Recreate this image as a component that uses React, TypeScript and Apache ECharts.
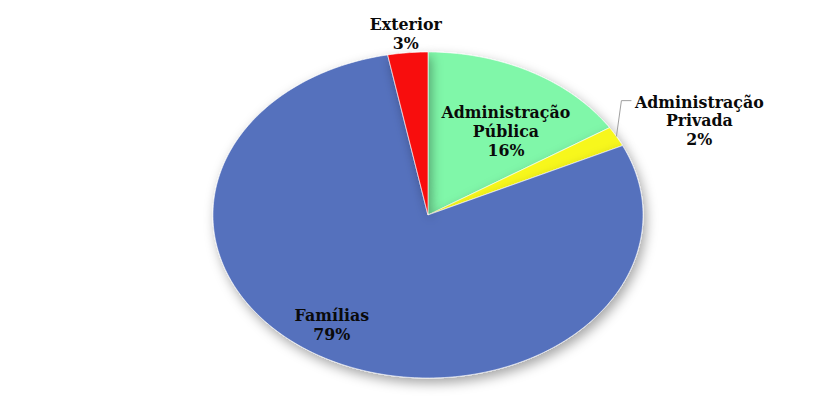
import React, { useEffect, useRef } from "react";
import * as echarts from "echarts";

const CATEGORIES = ["Administração Pública", "Administração Privada", "Famílias", "Exterior"];
const LABEL_TEXT = ["Administração\nPública", "Administração\nPrivada", "Famílias", "Exterior"];
const VALUES = [16, 2, 79, 3];
const COLORS = ["#80f7a9", "#f7f71e", "#5571bd", "#f80a0a"];

// label placement: radial factor and angular shift (degrees) relative to slice mid-angle
const LABEL_K = [0.627, 1.388, 0.81, 1.116];
const LABEL_DA = [6.5, 4.2, 6.5, 0.1];

const FONT = "bold 15.8px 'DejaVu Serif', 'Liberation Serif', serif";
const LINE_H = 18.8;

export default function App() {
  const ref = useRef<HTMLDivElement>(null);
  useEffect(() => {
    document.body.style.margin = "0";
    const chart = echarts.init(ref.current!, null, { renderer: "svg" });
    const total = VALUES.reduce((a, b) => a + b, 0);
    const starts: number[] = [];
    let acc = 0;
    VALUES.forEach((v) => {
      starts.push(acc);
      acc += v;
    });
    const geo = (api: any) => {
      const w = api.getWidth();
      const h = api.getHeight();
      return { cx: w * 0.5095, cy: h * 0.5257, rx: w * 0.256, ry: h * 0.3985 };
    };
    const pt = (g: any, deg: number, k: number) => {
      const a = (deg * Math.PI) / 180;
      return [g.cx + g.rx * k * Math.sin(a), g.cy - g.ry * k * Math.cos(a)];
    };
    const data = VALUES.map((v, i) => ({ value: v, name: CATEGORIES[i] }));

    chart.setOption({
      animation: false,
      backgroundColor: "#ffffff",
      series: [
        {
          type: "custom",
          coordinateSystem: "none",
          data,
          renderItem: (params: any, api: any) => {
            const i = params.dataIndex;
            const g = geo(api);
            const a0 = (starts[i] / total) * 360;
            const a1 = ((starts[i] + VALUES[i]) / total) * 360;
            const pts: number[][] = [[g.cx, g.cy]];
            const steps = Math.max(4, Math.ceil(a1 - a0));
            for (let s = 0; s <= steps; s++) {
              pts.push(pt(g, a0 + ((a1 - a0) * s) / steps, 1));
            }
            return {
              type: "polygon",
              shape: { points: pts },
              style: {
                fill: COLORS[i],
                stroke: "rgba(255,255,255,0.6)",
                lineWidth: 1,
                shadowBlur: 12,
                shadowColor: "rgba(0,0,0,0.35)",
                shadowOffsetX: 3,
                shadowOffsetY: 5,
              },
            };
          },
        },
        {
          type: "custom",
          coordinateSystem: "none",
          z: 10,
          data,
          renderItem: (params: any, api: any) => {
            const i = params.dataIndex;
            const g = geo(api);
            const a0 = (starts[i] / total) * 360;
            const a1 = ((starts[i] + VALUES[i]) / total) * 360;
            const mid = (a0 + a1) / 2;
            const p = pt(g, mid + LABEL_DA[i], LABEL_K[i]);
            const pct = Math.round((VALUES[i] / total) * 100) + "%";
            const children: any[] = [
              {
                type: "text",
                x: p[0],
                y: p[1],
                style: {
                  text: LABEL_TEXT[i] + "\n" + pct,
                  font: FONT,
                  fill: "#0a0a0a",
                  align: "center",
                  verticalAlign: "middle",
                  textAlign: "center",
                  textVerticalAlign: "middle",
                  lineHeight: LINE_H,
                },
              },
            ];
            if (i === 1) {
              const e = pt(g, mid, 1.0);
              const lines = LABEL_TEXT[i].split("\n").length + 1;
              const topY = p[1] - (lines * LINE_H) / 2 + 8;
              const p1 = [e[0] + 5, topY];
              const p2 = [p1[0] + 10, topY];
              children.unshift({
                type: "polyline",
                shape: { points: [e, p1, p2] },
                style: { stroke: "#a0a0a0", lineWidth: 1, fill: null },
              });
            }
            return { type: "group", children };
          },
        },
      ],
    });
    const onResize = () => chart.resize();
    window.addEventListener("resize", onResize);
    return () => {
      window.removeEventListener("resize", onResize);
      chart.dispose();
    };
  }, []);
  return <div ref={ref} style={{ width: 840, height: 409 }} />;
}
